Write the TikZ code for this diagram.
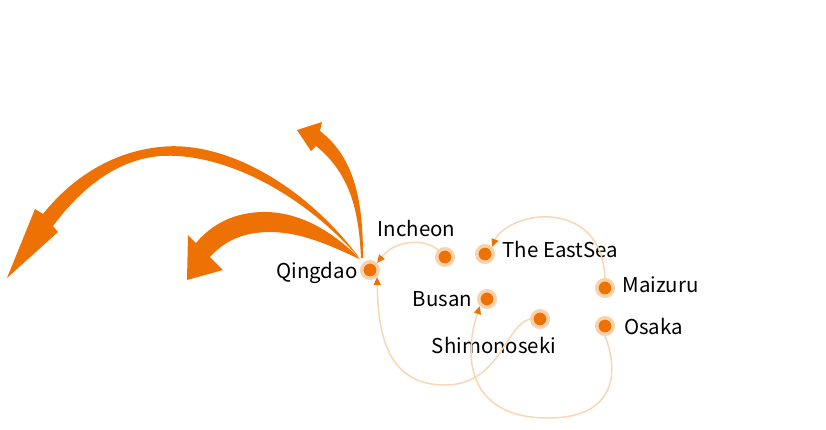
\documentclass[tikz,border=0pt]{standalone}
\usepackage{fontspec}
\setmainfont{Noto Sans CJK SC}
\usetikzlibrary{arrows.meta}
\definecolor{portorange}{RGB}{238,114,3}
\definecolor{portring}{RGB}{250,209,170}
\definecolor{routeline}{RGB}{249,214,180}
\tikzset{
    portnode/.style = {circle, draw=portring, fill=portorange, line width=3.5bp, minimum size=16.5bp, inner sep=0pt},
    routeedge/.style = {-{Triangle[length=8bp,width=7bp,color=portorange]}, draw=routeline, line width=1.5bp},
    bigarrow/.style = {fill=portorange, draw=none}, % tapered flow arrows
    every label/.style = {font=\fontsize{20.5}{24}\selectfont, text=black}
}

\begin{document}
\begin{tikzpicture}[x=1bp,y=-1bp]
  \useasboundingbox (0,0) rectangle (826,429);

  % ports
  \node[portnode,label={[label distance=-1bp,yshift=-3bp]left:Qingdao}] (qingdao) at (370,270) {};
  \node[portnode,label={[xshift=-28.5bp,yshift=6.5bp]above:Incheon}] (incheon) at (445,257) {};
  \node[portnode,label={[label distance=4bp,yshift=5bp]right:The EastSea}] (eastsea) at (485,254) {};
  \node[portnode,label={[label distance=1.5bp]left:Busan}] (busan) at (487,299) {};
  \node[portnode,label={[xshift=-46bp,yshift=-26bp]center:Shimonoseki}] (shimonoseki) at (540,319) {};
  \node[portnode,label={[label distance=4bp,yshift=3bp]right:Maizuru}] (maizuru) at (605,288) {};
  \node[portnode,label={[label distance=5.5bp]right:Osaka}] (osaka) at (605,326) {};

  % routes
  \draw[routeedge] (incheon.north west) .. controls (425,238) and (395,240) .. (qingdao.north east);
  \draw[routeedge] (maizuru.north) .. controls (603,230) and (570,215) .. (540,217)
                   .. controls (515,219) and (498,232) .. (eastsea.north east);
  \draw[routeedge] (shimonoseki.west) .. controls (505,325) and (500,385) .. (445,385)
                   .. controls (385,385) and (378,330) .. (qingdao.south east);
  \draw[routeedge] (osaka.south) .. controls (615,360) and (625,418) .. (548,418)
                   .. controls (470,418) and (462,360) .. (busan.south west);

  % flows out of Qingdao
  \fill[bigarrow] (361,258) .. controls (359,215) and (352,175) .. (316,146)
    -- (311,151) -- (297,130) -- (322,122) -- (320,131)
    .. controls (358,160) and (363,210) .. (363,258) -- cycle;
  \fill[bigarrow] (358,256) .. controls (300,180) and (220,140) .. (160,147)
    .. controls (110,152) and (70,180) .. (43,214)
    -- (35,209) -- (7,278) -- (58,232) -- (53,226)
    .. controls (80,190) and (115,160) .. (160,156)
    .. controls (220,152) and (300,190) .. (360,259) -- cycle;
  \fill[bigarrow] (357,256) .. controls (320,220) and (280,205) .. (240,215)
    .. controls (220,220) and (205,232) .. (196,243)
    -- (188,235) -- (187,280) -- (223,270) -- (210,257)
    .. controls (225,240) and (245,232) .. (270,232)
    .. controls (300,232) and (330,245) .. (359,259) -- cycle;
\end{tikzpicture}
\end{document}
